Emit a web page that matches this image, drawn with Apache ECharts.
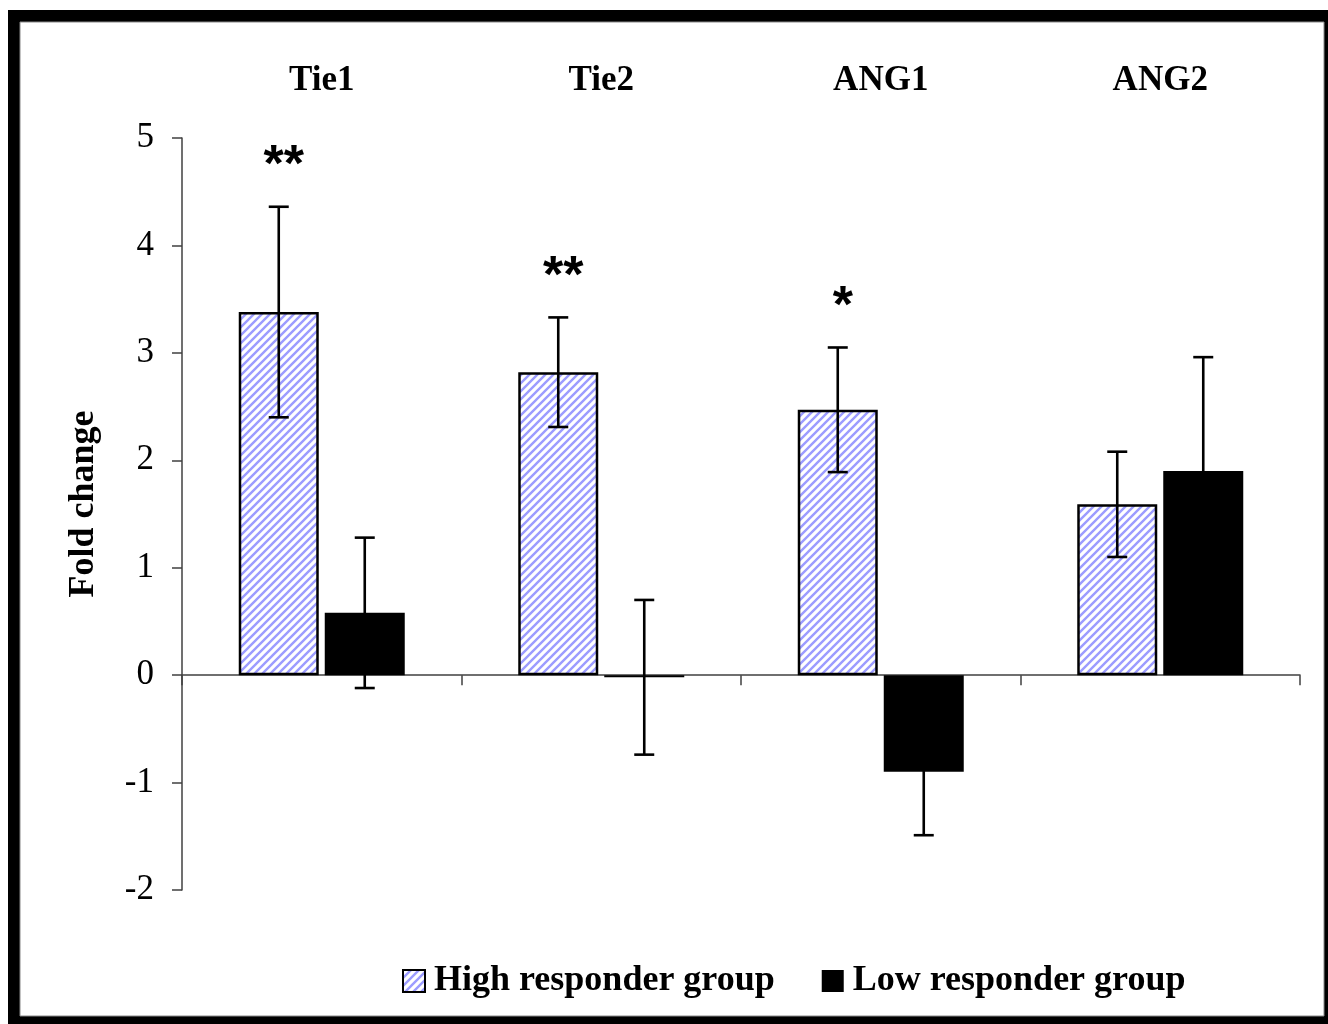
<!DOCTYPE html>
<html>
<head>
<meta charset="utf-8">
<script src="https://cdn.jsdelivr.net/npm/echarts@6/dist/echarts.min.js"></script>
<style>
html,body{margin:0;padding:0;background:#fff;}
#chart{width:1328px;height:1024px;}
</style>
</head>
<body>
<div id="chart"></div>
<script>
// ---- data ----
var categories = ['Tie1', 'Tie2', 'ANG1', 'ANG2'];
var highValues = [3.38, 2.82, 2.47, 1.59];
var highErrors = [0.98, 0.51, 0.58, 0.49];
var lowValues = [0.58, -0.02, -0.90, 1.90];
var lowErrors = [0.70, 0.72, 0.59, 1.06];
var significance = ['**', '**', '*', ''];
var seriesNames = ['High responder group', 'Low responder group'];

// hatch pattern
var pc = document.createElement('canvas');
pc.width = 8; pc.height = 8;
var ctx = pc.getContext('2d');
ctx.fillStyle = '#ffffff';
ctx.fillRect(0, 0, 8, 8);
ctx.strokeStyle = '#9c9cff';
ctx.lineWidth = 2.4;
ctx.beginPath();
ctx.moveTo(-2, 10); ctx.lineTo(10, -2);
ctx.moveTo(-6, 6); ctx.lineTo(6, -6);
ctx.moveTo(2, 14); ctx.lineTo(14, 2);
ctx.stroke();
var hatch = { image: pc, repeat: 'repeat' };

var chart = echarts.init(document.getElementById('chart'), null, { renderer: 'canvas' });

var serif = '"Liberation Serif", "Times New Roman", serif';
var barOffset = 43;

function errData(vals, errs) {
  return vals.map(function (v, i) { return [i, v, errs[i]]; });
}

function makeErrorRender(offset, showSig) {
  return function (params, api) {
    var i = api.value(0), v = api.value(1), e = api.value(2);
    var base = api.coord([i, v]);
    var x = base[0] + offset;
    var top = api.coord([i, v + e])[1];
    var bot = api.coord([i, v - e])[1];
    var ls = { stroke: '#000', lineWidth: 2.6 };
    var children = [
      { type: 'line', shape: { x1: x, y1: top, x2: x, y2: bot }, style: ls },
      { type: 'line', shape: { x1: x - 10, y1: top, x2: x + 10, y2: top }, style: ls },
      { type: 'line', shape: { x1: x - 10, y1: bot, x2: x + 10, y2: bot }, style: ls }
    ];
    if (showSig && significance[i]) {
      children.push({
        type: 'text',
        style: {
          text: significance[i], x: x + 5, y: top - 40, align: 'center', verticalAlign: 'middle',
          font: 'bold 52px "Liberation Sans", Arial, sans-serif', fill: '#000'
        }
      });
    }
    return { type: 'group', children: children };
  };
}

var option = {
  backgroundColor: '#fff',
  animation: false,
  graphic: [
    { type: 'rect', shape: { x: 8, y: 10, width: 1330, height: 1024 }, style: { fill: '#000' }, z: -10 },
    { type: 'rect', shape: { x: 20, y: 22, width: 1304, height: 994 }, style: { fill: '#fff', stroke: '#888', lineWidth: 1 }, z: -9 }
  ],
  grid: { left: 182, right: 28, top: 138, bottom: 134 },
  legend: {
    left: 397, top: 958,
    icon: 'rect',
    itemWidth: 22, itemHeight: 22, itemGap: 47,
    data: [
      { name: seriesNames[0], itemStyle: { color: hatch, borderColor: '#000', borderWidth: 2 } },
      { name: seriesNames[1], itemStyle: { color: '#000' } }
    ],
    textStyle: { fontFamily: serif, fontWeight: 'bold', fontSize: 36, color: '#000', padding: [0, 0, 0, 4] }
  },
  xAxis: [
    {
      type: 'category', data: categories, position: 'bottom',
      axisLine: { onZero: true, lineStyle: { color: '#404040', width: 1.5 } },
      axisTick: { show: true, length: 10, alignWithLabel: false, lineStyle: { color: '#404040', width: 1.5 } },
      axisLabel: { show: false },
      splitLine: { show: false }
    },
    {
      type: 'category', data: categories, position: 'top',
      axisLine: { show: false }, axisTick: { show: false },
      axisLabel: { show: true, margin: 40, fontFamily: serif, fontWeight: 'bold', fontSize: 35, color: '#000' },
      splitLine: { show: false }
    }
  ],
  yAxis: {
    type: 'value', min: -2, max: 5, interval: 1,
    name: 'Fold change', nameLocation: 'middle', nameGap: 80, nameRotate: 90,
    nameTextStyle: { fontFamily: serif, fontWeight: 'bold', fontSize: 36, color: '#000', padding: [0, 0, 0, 20] },
    axisLine: { show: true, lineStyle: { color: '#404040', width: 1.5 } },
    axisTick: { show: true, length: 10, lineStyle: { color: '#404040', width: 1.5 } },
    axisLabel: { margin: 28, fontFamily: serif, fontSize: 35, color: '#000' },
    splitLine: { show: false }
  },
  series: [
    {
      name: seriesNames[0], type: 'bar', data: highValues, barWidth: 80, barGap: '7.5%',
      itemStyle: { color: hatch, borderColor: '#000', borderWidth: 2.5 }
    },
    {
      name: seriesNames[1], type: 'bar', data: lowValues, barWidth: 80, barGap: '7.5%',
      itemStyle: { color: '#000', borderColor: '#000', borderWidth: 0 }
    },
    {
      type: 'custom', renderItem: makeErrorRender(-barOffset, true),
      data: errData(highValues, highErrors), z: 5, silent: true
    },
    {
      type: 'custom', renderItem: makeErrorRender(barOffset, false),
      data: errData(lowValues, lowErrors), z: 5, silent: true
    }
  ]
};
chart.setOption(option);
</script>
</body>
</html>
